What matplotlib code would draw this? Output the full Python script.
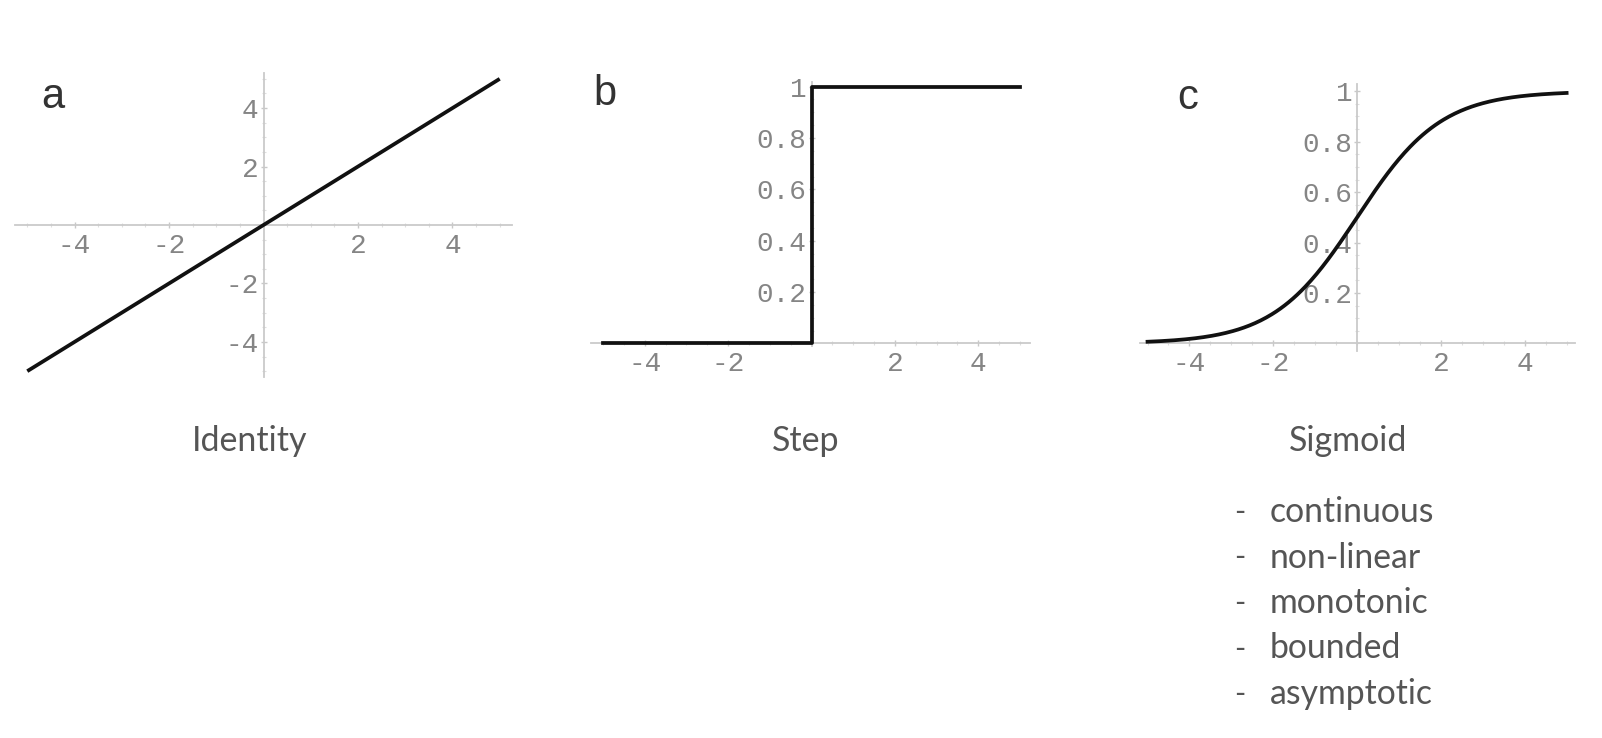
import numpy as np
import matplotlib.pyplot as plt
from matplotlib.ticker import MultipleLocator

# data for the three activation functions
x_ident = [-5, 5]
y_ident = [-5, 5]
x_step = [-5, 0, 0, 5]
y_step = [0, 0, 1, 1]
x_sig = np.linspace(-5, 5, 301)
y_sig = 1 / (1 + np.exp(-x_sig))   # logistic curve shown in panel c

letters = ['a', 'b', 'c']
captions = ['Identity', 'Step', 'Sigmoid']
xticks = [-4, -2, 2, 4]
xtick_labels = ['-4', '-2', '2', '4']
yticks_a = [-4, -2, 2, 4]
ytick_labels_a = ['-4', '-2', '2', '4']
yticks_bc = [0.2, 0.4, 0.6, 0.8, 1]
ytick_labels_bc = ['0.2', '0.4', '0.6', '0.8', '1']
properties = ['continuous', 'non-linear', 'monotonic', 'bounded', 'asymptotic']

W, H = 1602, 738
fig = plt.figure(figsize=(W / 100, H / 100), dpi=100)


def px_axes(left, top, right, bottom):
    return fig.add_axes([left / W, 1 - bottom / H, (right - left) / W, (bottom - top) / H])


def style(ax, xlim, ylim, yt, ytl, yminor):
    ax.set_xlim(xlim)
    ax.set_ylim(ylim)
    ax.patch.set_visible(False)
    for s in ['top', 'right']:
        ax.spines[s].set_visible(False)
    for s in ['left', 'bottom']:
        ax.spines[s].set_position(('data', 0))
        ax.spines[s].set_color('#cacaca')
        ax.spines[s].set_linewidth(1.3)
    ax.set_xticks(xticks, xtick_labels)
    ax.set_yticks(yt, ytl)
    ax.xaxis.set_minor_locator(MultipleLocator(0.5))
    ax.yaxis.set_minor_locator(MultipleLocator(yminor))
    ax.tick_params(which='major', direction='inout', length=5, width=1, color='#c8c8c8',
                   labelcolor='#858585', labelsize=20)
    ax.tick_params(which='minor', direction='inout', length=3, width=0.8, color='#dedede')
    ax.tick_params(axis='x', pad=3)
    ax.tick_params(axis='y', pad=1)
    for lab in ax.get_xticklabels() + ax.get_yticklabels():
        lab.set_family('Liberation Mono')


# panel a: identity
ax_a = px_axes(15, 73, 512, 377)
style(ax_a, (-5.26, 5.26), (-5.2, 5.2), yticks_a, ytick_labels_a, 0.5)
ax_a.plot(x_ident, y_ident, color='#111111', lw=2.7, solid_capstyle='butt', zorder=3)

# panel b: step
ax_b = px_axes(591, 81.5, 1030, 346)
style(ax_b, (-5.29, 5.24), (-0.01, 1.02), yticks_bc, ytick_labels_bc, 0.05)
ax_b.plot(x_step, y_step, color='#111111', lw=2.7, clip_on=False, zorder=3)

# panel c: sigmoid
ax_c = px_axes(1140, 83.7, 1575, 351)
style(ax_c, (-5.18, 5.2), (-0.03, 1.03), yticks_bc, ytick_labels_bc, 0.05)
ax_c.plot(x_sig, y_sig, color='#111111', lw=2.7, zorder=3)

# panel letters
for (lx, ly), letter in zip([(53, 97), (605, 94), (1188, 98)], letters):
    fig.text(lx / W, 1 - ly / H, letter, fontsize=30, family='Liberation Sans',
             color='#333333', ha='center', va='center')

# captions
for cx, cap in zip([250, 806, 1348], captions):
    fig.text(cx / W, 1 - 441 / H, cap, fontsize=24.5, family='Lato',
             color='#555555', ha='center', va='center')

# property list under the sigmoid
for i, p in enumerate(properties):
    yy = 1 - (512 + i * 45.5) / H
    fig.text(1240 / W, yy, '-', fontsize=22, family='Lato',
             color='#555555', ha='center', va='center')
    fig.text(1270 / W, yy, p, fontsize=24.3, family='Lato',
             color='#555555', ha='left', va='center')

fig.savefig('out.png', dpi=100)
